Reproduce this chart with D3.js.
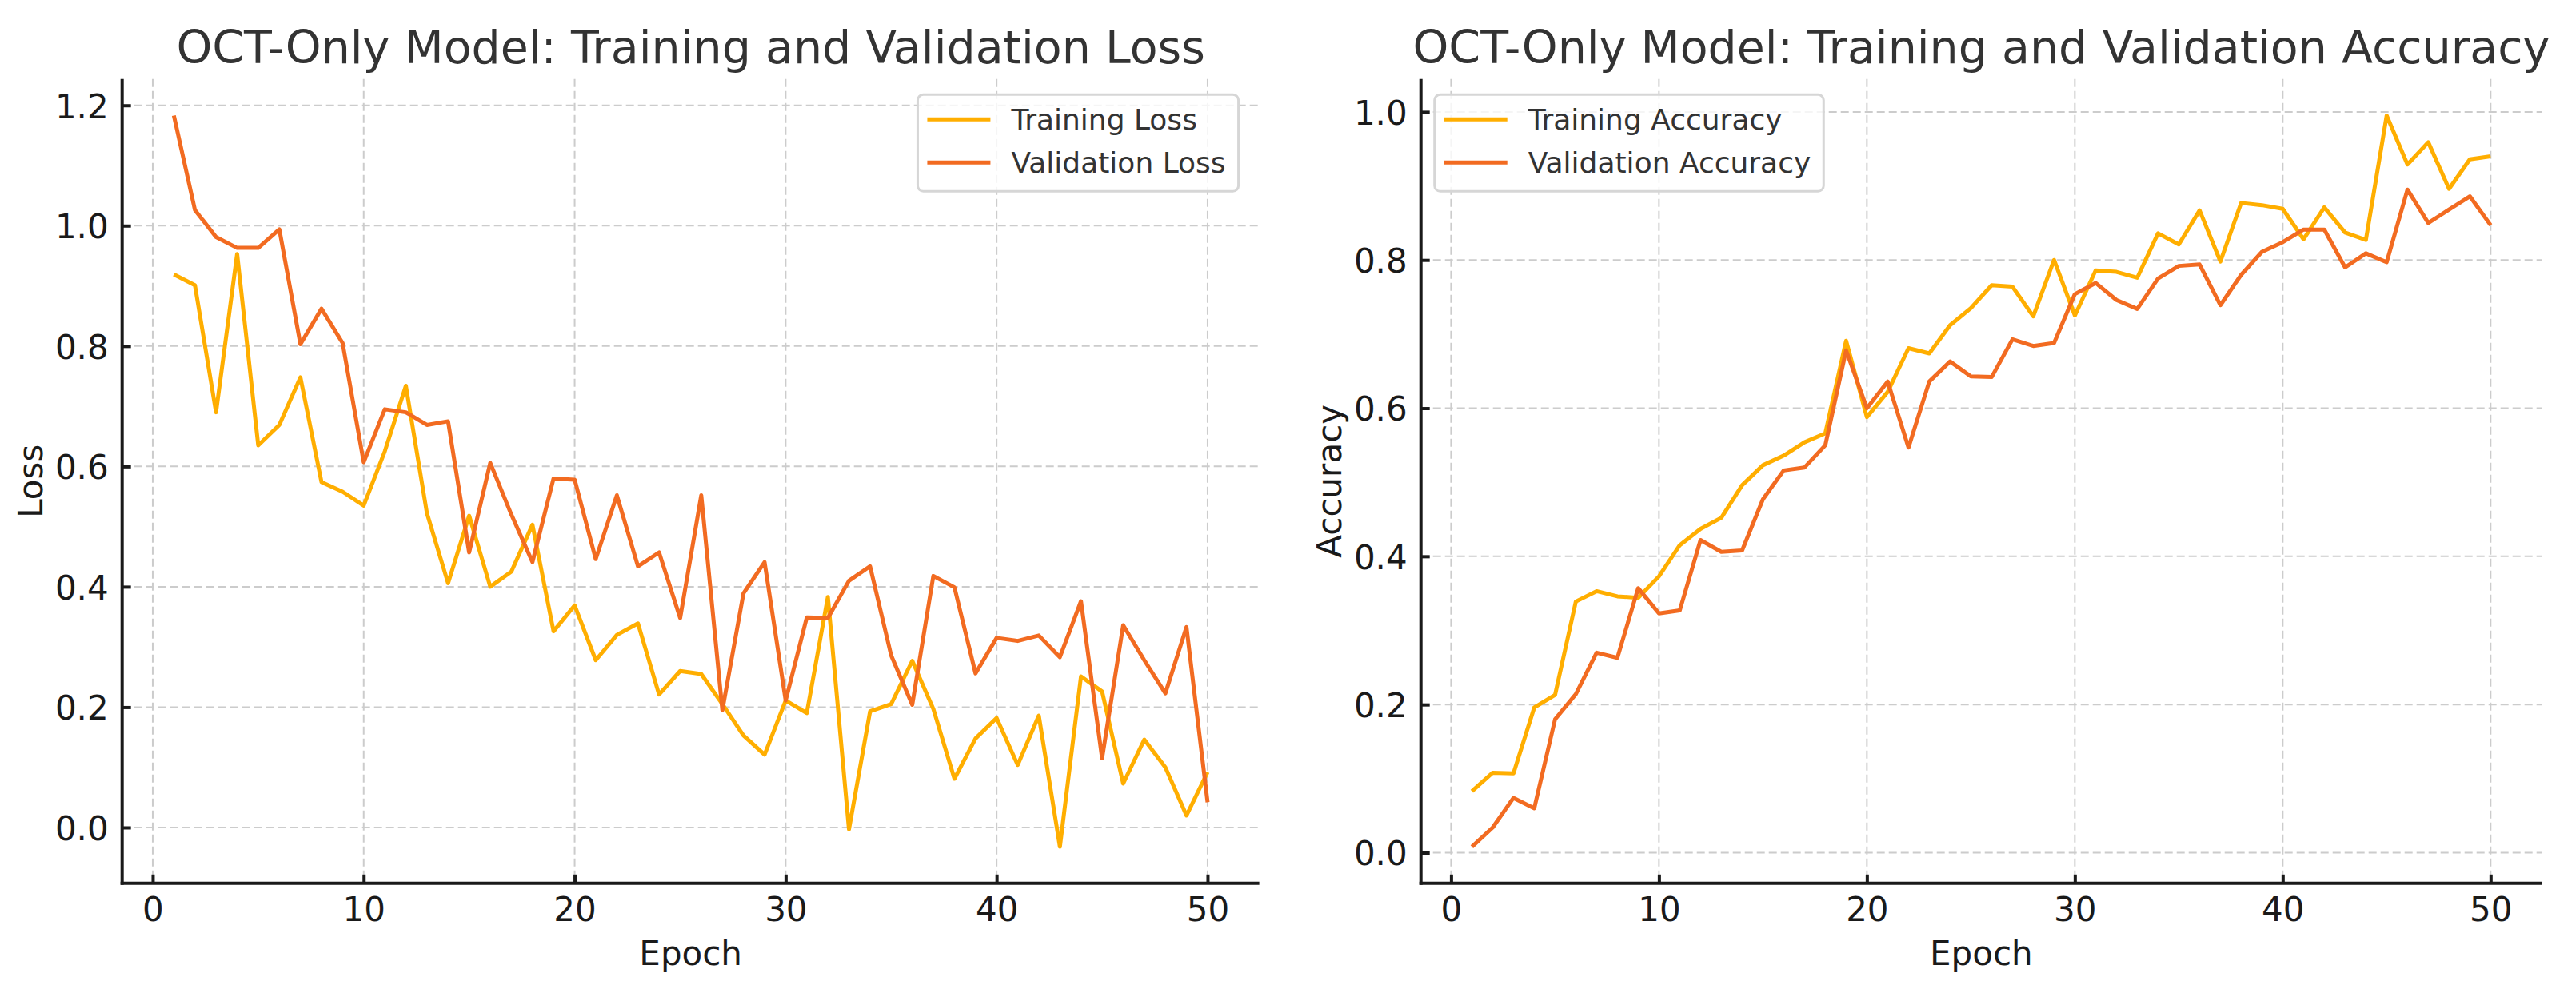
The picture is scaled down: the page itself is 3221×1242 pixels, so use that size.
<!DOCTYPE html>
<html>
<head>
<meta charset="utf-8">
<script src="https://cdn.jsdelivr.net/npm/d3@7"></script>
<style>
  html, body { margin: 0; padding: 0; background: #fff; }
  text { font-family: "DejaVu Sans", sans-serif; }
</style>
</head>
<body>
<svg id="chart" width="3221" height="1242"></svg>
<script>
// Data
const epochs = [1, 2, 3, 4, 5, 6, 7, 8, 9, 10, 11, 12, 13, 14, 15, 16, 17, 18, 19, 20,
  21, 22, 23, 24, 25, 26, 27, 28, 29, 30, 31, 32, 33, 34, 35, 36, 37, 38, 39, 40,
  41, 42, 43, 44, 45, 46, 47, 48, 49, 50];

const trainLoss = [0.919, 0.901, 0.690, 0.953, 0.635, 0.669, 0.748, 0.574, 0.558, 0.535,
  0.625, 0.734, 0.522, 0.406, 0.518, 0.400, 0.425, 0.503, 0.326, 0.369,
  0.278, 0.320, 0.339, 0.221, 0.260, 0.255, 0.205, 0.153, 0.121, 0.211,
  0.190, 0.383, -0.003, 0.193, 0.205, 0.277, 0.197, 0.081, 0.148, 0.182,
  0.104, 0.186, -0.032, 0.251, 0.226, 0.073, 0.146, 0.100, 0.020, 0.092];

const valLoss = [1.183, 1.026, 0.981, 0.963, 0.963, 0.994, 0.803, 0.862, 0.805, 0.607,
  0.695, 0.690, 0.669, 0.675, 0.457, 0.606, 0.520, 0.441, 0.580, 0.578,
  0.446, 0.552, 0.434, 0.457, 0.348, 0.552, 0.195, 0.389, 0.441, 0.211,
  0.349, 0.348, 0.410, 0.434, 0.286, 0.204, 0.418, 0.399, 0.256, 0.315,
  0.310, 0.319, 0.283, 0.376, 0.115, 0.336, 0.278, 0.223, 0.333, 0.042];

const trainAcc = [0.083, 0.108, 0.107, 0.196, 0.213, 0.339, 0.353, 0.346, 0.344, 0.373,
  0.415, 0.437, 0.452, 0.496, 0.523, 0.536, 0.554, 0.566, 0.691, 0.588,
  0.622, 0.681, 0.674, 0.712, 0.735, 0.766, 0.764, 0.724, 0.800, 0.725,
  0.786, 0.784, 0.776, 0.836, 0.821, 0.867, 0.798, 0.877, 0.874, 0.869,
  0.828, 0.871, 0.837, 0.827, 0.995, 0.929, 0.959, 0.896, 0.936, 0.940];

const valAcc = [0.008, 0.034, 0.074, 0.060, 0.180, 0.214, 0.270, 0.263, 0.357, 0.323,
  0.327, 0.422, 0.406, 0.408, 0.477, 0.516, 0.520, 0.550, 0.678, 0.600,
  0.636, 0.547, 0.636, 0.663, 0.643, 0.642, 0.693, 0.684, 0.688, 0.754,
  0.769, 0.746, 0.734, 0.775, 0.792, 0.794, 0.739, 0.780, 0.811, 0.824,
  0.841, 0.841, 0.790, 0.809, 0.797, 0.895, 0.850, 0.868, 0.886, 0.847];

const xTicks = [0, 10, 20, 30, 40, 50];
const lossTicks = [0.0, 0.2, 0.4, 0.6, 0.8, 1.0, 1.2];
const accTicks = [0.0, 0.2, 0.4, 0.6, 0.8, 1.0];

const TRAIN_COLOR = "#ffae00";
const VAL_COLOR = "#f26b21";

/**
 * Matplotlib-style domain: data extent plus 5% on each side
 */
const padded = (values) => {
  const [lo, hi] = d3.extent(values);
  const m = (hi - lo) * 0.05;
  return [lo - m, hi + m];
};

/**
 * Draw one panel
 */
const drawPanel = (svg, cfg) => {
  const top = 98.8, bottom = 1104.8;

  const x = d3.scaleLinear().domain(padded(epochs)).range([cfg.left, cfg.right]);
  const y = d3.scaleLinear()
    .domain(padded([...cfg.series[0].values, ...cfg.series[1].values]))
    .range([bottom, top]);

  const g = svg.append("g");

  // Grid
  g.append("g").selectAll("line").data(xTicks).join("line")
    .attr("x1", d => x(d)).attr("x2", d => x(d))
    .attr("y1", top).attr("y2", bottom)
    .attr("stroke", "#cccccc").attr("stroke-width", 2)
    .attr("stroke-dasharray", "10,5");

  g.append("g").selectAll("line").data(cfg.yTicks).join("line")
    .attr("x1", cfg.left).attr("x2", cfg.right)
    .attr("y1", d => y(d)).attr("y2", d => y(d))
    .attr("stroke", "#cccccc").attr("stroke-width", 2)
    .attr("stroke-dasharray", "10,5");

  // Lines
  const line = d3.line()
    .x((d, i) => x(epochs[i]))
    .y(d => y(d));

  cfg.series.forEach(s => {
    g.append("path")
      .datum(s.values)
      .attr("fill", "none")
      .attr("stroke", s.color)
      .attr("stroke-width", 5)
      .attr("stroke-linejoin", "round")
      .attr("d", line);
  });

  // X - Axis (ticks point inward)
  const xAxis = g.append("g")
    .attr("transform", `translate(0,${bottom})`)
    .call(d3.axisBottom(x).tickValues(xTicks).tickFormat(d3.format("d"))
      .tickSizeInner(-11).tickSizeOuter(0).tickPadding(0));
  xAxis.select(".domain").remove();
  xAxis.selectAll(".tick line").attr("stroke", "#1a1a1a").attr("stroke-width", 4);
  xAxis.selectAll(".tick text")
    .attr("y", 46.9).attr("dy", null)
    .attr("fill", "#1a1a1a").style("font-size", "42px").style("font-family", "DejaVu Sans");

  // Y - Axis
  const yAxis = g.append("g")
    .attr("transform", `translate(${cfg.left},0)`)
    .call(d3.axisLeft(y).tickValues(cfg.yTicks).tickFormat(d3.format(".1f"))
      .tickSizeInner(-11).tickSizeOuter(0).tickPadding(0));
  yAxis.select(".domain").remove();
  yAxis.selectAll(".tick line").attr("stroke", "#1a1a1a").attr("stroke-width", 4);
  yAxis.selectAll(".tick text")
    .attr("x", -17).attr("dy", "0.365em")
    .attr("fill", "#1a1a1a").style("font-size", "42px").style("font-family", "DejaVu Sans");

  // Spines: left and bottom only
  g.append("line")
    .attr("x1", cfg.left).attr("x2", cfg.left)
    .attr("y1", top).attr("y2", bottom + 2)
    .attr("stroke", "#1a1a1a").attr("stroke-width", 4);
  g.append("line")
    .attr("x1", cfg.left - 2).attr("x2", cfg.right)
    .attr("y1", bottom).attr("y2", bottom)
    .attr("stroke", "#1a1a1a").attr("stroke-width", 4);

  // Title
  g.append("text")
    .attr("x", (cfg.left + cfg.right) / 2)
    .attr("y", 79.3)
    .attr("text-anchor", "middle")
    .attr("fill", "#333333")
    .style("font-size", "57px")
    .text(cfg.title);

  // X - Axis Label
  g.append("text")
    .attr("x", (cfg.left + cfg.right) / 2)
    .attr("y", 1206.7)
    .attr("text-anchor", "middle")
    .attr("fill", "#1a1a1a")
    .style("font-size", "42px")
    .text("Epoch");

  // Y - Axis Label
  g.append("text")
    .attr("transform", `translate(${cfg.left - 100},${(top + bottom) / 2}) rotate(-90)`)
    .attr("text-anchor", "middle")
    .attr("fill", "#1a1a1a")
    .style("font-size", "42px")
    .text(cfg.yLabel);

  // Legend
  const legend = g.append("g");
  const box = legend.append("rect")
    .attr("rx", 7).attr("ry", 7)
    .attr("fill", "#ffffff").attr("fill-opacity", 0.8)
    .attr("stroke", "#d6d6d6").attr("stroke-width", 3);

  const texts = cfg.series.map((s, i) => {
    const cy = 31 + i * 54;
    legend.append("line")
      .attr("x1", 12).attr("x2", 91)
      .attr("y1", cy).attr("y2", cy)
      .attr("stroke", s.color).attr("stroke-width", 5);
    return legend.append("text")
      .attr("x", 117).attr("y", cy + 13)
      .attr("fill", "#333333")
      .style("font-size", "36px")
      .text(s.name);
  });

  const textW = d3.max(texts, t => t.node().getComputedTextLength());
  const boxW = 117 + textW + 16;
  box.attr("width", boxW).attr("height", 121);

  const lx = cfg.legendLeft ? cfg.left + 17 : cfg.right - 26 - boxW;
  legend.attr("transform", `translate(${lx},118.3)`);
};

const init = () => {
  const svg = d3.select("#chart");

  drawPanel(svg, {
    left: 152.7,
    right: 1574.6,
    title: "OCT-Only Model: Training and Validation Loss",
    yLabel: "Loss",
    yTicks: lossTicks,
    legendLeft: false,
    series: [
      { name: "Training Loss", values: trainLoss, color: TRAIN_COLOR },
      { name: "Validation Loss", values: valLoss, color: VAL_COLOR }
    ]
  });

  drawPanel(svg, {
    left: 1776.7,
    right: 3178,
    title: "OCT-Only Model: Training and Validation Accuracy",
    yLabel: "Accuracy",
    yTicks: accTicks,
    legendLeft: true,
    series: [
      { name: "Training Accuracy", values: trainAcc, color: TRAIN_COLOR },
      { name: "Validation Accuracy", values: valAcc, color: VAL_COLOR }
    ]
  });
};

init();
</script>
</body>
</html>
